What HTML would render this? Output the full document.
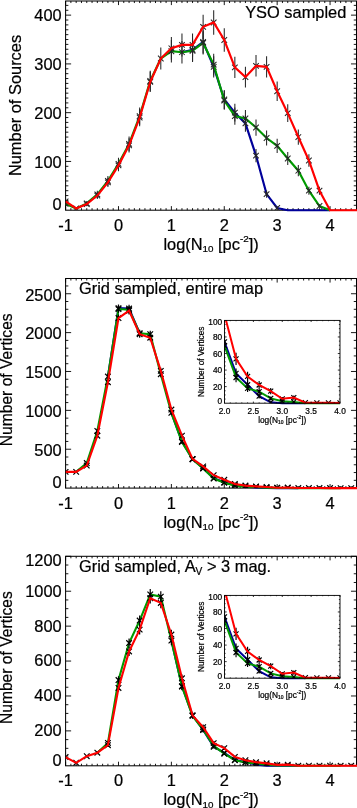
<!DOCTYPE html><html><head><meta charset="utf-8"><style>html,body{margin:0;padding:0;background:#fff}svg{display:block}text{font-family:'Liberation Sans', sans-serif;fill:#000;stroke:#000;stroke-width:0.22px}</style></head><body>
<svg width="357" height="808" viewBox="0 0 357 808" style="will-change:transform">
<rect width="357" height="808" fill="#fff"/>
<path d="M65.60 210.20V206.12M65.60 1.00V5.08M70.89 210.20V208.16M70.89 1.00V3.04M76.18 210.20V208.16M76.18 1.00V3.04M81.47 210.20V208.16M81.47 1.00V3.04M86.76 210.20V208.16M86.76 1.00V3.04M92.05 210.20V208.16M92.05 1.00V3.04M97.33 210.20V208.16M97.33 1.00V3.04M102.62 210.20V208.16M102.62 1.00V3.04M107.91 210.20V208.16M107.91 1.00V3.04M113.20 210.20V208.16M113.20 1.00V3.04M118.49 210.20V206.12M118.49 1.00V5.08M123.78 210.20V208.16M123.78 1.00V3.04M129.07 210.20V208.16M129.07 1.00V3.04M134.36 210.20V208.16M134.36 1.00V3.04M139.65 210.20V208.16M139.65 1.00V3.04M144.94 210.20V208.16M144.94 1.00V3.04M150.23 210.20V208.16M150.23 1.00V3.04M155.51 210.20V208.16M155.51 1.00V3.04M160.80 210.20V208.16M160.80 1.00V3.04M166.09 210.20V208.16M166.09 1.00V3.04M171.38 210.20V206.12M171.38 1.00V5.08M176.67 210.20V208.16M176.67 1.00V3.04M181.96 210.20V208.16M181.96 1.00V3.04M187.25 210.20V208.16M187.25 1.00V3.04M192.54 210.20V208.16M192.54 1.00V3.04M197.83 210.20V208.16M197.83 1.00V3.04M203.12 210.20V208.16M203.12 1.00V3.04M208.41 210.20V208.16M208.41 1.00V3.04M213.69 210.20V208.16M213.69 1.00V3.04M218.98 210.20V208.16M218.98 1.00V3.04M224.27 210.20V206.12M224.27 1.00V5.08M229.56 210.20V208.16M229.56 1.00V3.04M234.85 210.20V208.16M234.85 1.00V3.04M240.14 210.20V208.16M240.14 1.00V3.04M245.43 210.20V208.16M245.43 1.00V3.04M250.72 210.20V208.16M250.72 1.00V3.04M256.01 210.20V208.16M256.01 1.00V3.04M261.30 210.20V208.16M261.30 1.00V3.04M266.59 210.20V208.16M266.59 1.00V3.04M271.87 210.20V208.16M271.87 1.00V3.04M277.16 210.20V206.12M277.16 1.00V5.08M282.45 210.20V208.16M282.45 1.00V3.04M287.74 210.20V208.16M287.74 1.00V3.04M293.03 210.20V208.16M293.03 1.00V3.04M298.32 210.20V208.16M298.32 1.00V3.04M303.61 210.20V208.16M303.61 1.00V3.04M308.90 210.20V208.16M308.90 1.00V3.04M314.19 210.20V208.16M314.19 1.00V3.04M319.48 210.20V208.16M319.48 1.00V3.04M324.77 210.20V208.16M324.77 1.00V3.04M330.05 210.20V206.12M330.05 1.00V5.08M335.34 210.20V208.16M335.34 1.00V3.04M340.63 210.20V208.16M340.63 1.00V3.04M345.92 210.20V208.16M345.92 1.00V3.04M351.21 210.20V208.16M351.21 1.00V3.04M356.50 210.20V208.16M356.50 1.00V3.04M65.60 205.32H68.36M356.50 205.32H353.74M65.60 200.45H68.36M356.50 200.45H353.74M65.60 195.57H68.36M356.50 195.57H353.74M65.60 190.69H68.36M356.50 190.69H353.74M65.60 185.82H68.36M356.50 185.82H353.74M65.60 180.94H68.36M356.50 180.94H353.74M65.60 176.06H68.36M356.50 176.06H353.74M65.60 171.19H68.36M356.50 171.19H353.74M65.60 166.31H68.36M356.50 166.31H353.74M65.60 161.44H71.13M356.50 161.44H350.97M65.60 156.56H68.36M356.50 156.56H353.74M65.60 151.68H68.36M356.50 151.68H353.74M65.60 146.81H68.36M356.50 146.81H353.74M65.60 141.93H68.36M356.50 141.93H353.74M65.60 137.05H68.36M356.50 137.05H353.74M65.60 132.18H68.36M356.50 132.18H353.74M65.60 127.30H68.36M356.50 127.30H353.74M65.60 122.42H68.36M356.50 122.42H353.74M65.60 117.55H68.36M356.50 117.55H353.74M65.60 112.67H71.13M356.50 112.67H350.97M65.60 107.79H68.36M356.50 107.79H353.74M65.60 102.92H68.36M356.50 102.92H353.74M65.60 98.04H68.36M356.50 98.04H353.74M65.60 93.17H68.36M356.50 93.17H353.74M65.60 88.29H68.36M356.50 88.29H353.74M65.60 83.41H68.36M356.50 83.41H353.74M65.60 78.54H68.36M356.50 78.54H353.74M65.60 73.66H68.36M356.50 73.66H353.74M65.60 68.78H68.36M356.50 68.78H353.74M65.60 63.91H71.13M356.50 63.91H350.97M65.60 59.03H68.36M356.50 59.03H353.74M65.60 54.15H68.36M356.50 54.15H353.74M65.60 49.28H68.36M356.50 49.28H353.74M65.60 44.40H68.36M356.50 44.40H353.74M65.60 39.52H68.36M356.50 39.52H353.74M65.60 34.65H68.36M356.50 34.65H353.74M65.60 29.77H68.36M356.50 29.77H353.74M65.60 24.89H68.36M356.50 24.89H353.74M65.60 20.02H68.36M356.50 20.02H353.74M65.60 15.14H71.13M356.50 15.14H350.97M65.60 10.27H68.36M356.50 10.27H353.74M65.60 5.39H68.36M356.50 5.39H353.74" fill="none" stroke="#000" stroke-width="0.90"/>
<rect x="65.60" y="1.00" width="290.90" height="209.20" fill="none" stroke="#000" stroke-width="1.03"/>
<clipPath id="p1"><rect x="65.60" y="1.00" width="290.90" height="209.20"/></clipPath>
<clipPath id="p1L"><rect x="65.60" y="-2.00" width="291.50" height="215.20"/></clipPath>
<g clip-path="url(#p1L)">
<polyline points="181.96,52.20 192.54,49.76 203.12,41.96 213.69,66.83 224.27,99.50 234.85,112.67 245.43,123.40 256.01,155.58 266.59,194.11 277.16,208.01 287.74,210.20 298.32,210.20 308.90,210.20 319.48,210.20 330.05,210.20" fill="none" stroke="#00009a" stroke-width="2.15" stroke-linejoin="miter" stroke-miterlimit="2.5" stroke-linecap="butt"/>
<path d="M189.74 46.96L195.34 52.56M189.74 52.56L195.34 46.96M192.54 38.44L192.54 61.09M200.32 39.16L205.92 44.76M200.32 44.76L205.92 39.16M203.12 30.37L203.12 53.56M210.89 64.03L216.49 69.63M210.89 69.63L216.49 64.03M213.69 56.13L213.69 77.53M221.47 96.70L227.07 102.30M221.47 102.30L227.07 96.70M224.27 90.10L224.27 108.91M232.05 109.87L237.65 115.47M232.05 115.47L237.65 109.87M234.85 103.84L234.85 121.50M242.63 120.60L248.23 126.20M242.63 126.20L248.23 120.60M245.43 115.07L245.43 131.73M253.21 152.78L258.81 158.38M253.21 158.38L258.81 152.78M256.01 148.98L256.01 162.19M263.79 191.31L269.39 196.91M263.79 196.91L269.39 191.31M266.59 190.52L266.59 197.69M274.36 205.21L279.96 210.81M274.36 210.81L279.96 205.21M277.16 206.68L277.16 209.33" fill="none" stroke="#262626" stroke-width="1.05" clip-path="url(#p1)"/>
<polyline points="65.60,203.86 76.18,208.49 86.76,203.37 97.33,194.35 107.91,180.94 118.49,163.87 129.07,143.88 139.65,116.08 150.23,80.97 160.80,58.54 171.38,51.23 181.96,52.20 192.54,50.74 203.12,42.94 213.69,64.64 224.27,100.48 234.85,116.08 245.43,118.52 256.01,127.54 266.59,138.03 277.16,145.83 287.74,158.51 298.32,170.70 308.90,190.69 319.48,206.01 330.05,210.20" fill="none" stroke="#009a00" stroke-width="2.15" stroke-linejoin="miter" stroke-miterlimit="2.5" stroke-linecap="butt"/>
<path d="M62.80 201.06L68.40 206.66M62.80 206.66L68.40 201.06M65.60 201.61L65.60 206.11M83.96 200.57L89.56 206.17M83.96 206.17L89.56 200.57M86.76 201.04L86.76 205.71M94.53 191.55L100.13 197.15M94.53 197.15L100.13 191.55M97.33 190.79L97.33 197.91M105.11 178.14L110.71 183.74M105.11 183.74L110.71 178.14M107.91 176.11L107.91 185.78M115.69 161.07L121.29 166.67M115.69 166.67L121.29 161.07M118.49 157.79L118.49 169.96M126.27 141.08L131.87 146.68M126.27 146.68L131.87 141.08M129.07 136.60L129.07 151.16M136.85 113.28L142.45 118.88M136.85 118.88L142.45 113.28M139.65 107.41L139.65 124.76M147.43 78.17L153.03 83.77M147.43 83.77L153.03 78.17M150.23 70.81L150.23 91.13M168.58 48.43L174.18 54.03M168.58 54.03L174.18 48.43M171.38 39.96L171.38 62.50M179.16 49.40L184.76 55.00M179.16 55.00L184.76 49.40M181.96 40.97L181.96 63.44M189.74 47.94L195.34 53.54M189.74 53.54L195.34 47.94M192.54 39.45L192.54 62.03M200.32 40.14L205.92 45.74M200.32 45.74L205.92 40.14M203.12 31.38L203.12 54.50M210.89 61.84L216.49 67.44M210.89 67.44L216.49 61.84M213.69 53.85L213.69 75.42M221.47 97.68L227.07 103.28M221.47 103.28L227.07 97.68M224.27 91.12L224.27 109.84M232.05 113.28L237.65 118.88M232.05 118.88L237.65 113.28M234.85 107.41L234.85 124.76M242.63 115.72L248.23 121.32M242.63 121.32L248.23 115.72M245.43 109.96L245.43 127.08M253.21 124.74L258.81 130.34M253.21 130.34L258.81 124.74M256.01 119.42L256.01 135.67M263.79 135.23L269.39 140.83M263.79 140.83L269.39 135.23M266.59 130.43L266.59 145.62M274.36 143.03L279.96 148.63M274.36 148.63L279.96 143.03M277.16 138.66L277.16 153.00M284.94 155.71L290.54 161.31M284.94 161.31L290.54 155.71M287.74 152.08L287.74 164.94M295.52 167.90L301.12 173.50M295.52 173.50L301.12 167.90M298.32 165.08L298.32 176.32M306.10 187.89L311.70 193.49M306.10 193.49L311.70 187.89M308.90 186.75L308.90 194.64M316.68 203.21L322.28 208.81M316.68 208.81L322.28 203.21M319.48 204.18L319.48 207.84" fill="none" stroke="#262626" stroke-width="1.05" clip-path="url(#p1)"/>
<path d="M62.80 198.62L68.40 204.22M62.80 204.22L68.40 198.62M65.60 198.77L65.60 204.07M73.38 205.69L78.98 211.29M73.38 211.29L78.98 205.69M76.18 207.33L76.18 209.66M83.96 201.30L89.56 206.90M83.96 206.90L89.56 201.30M86.76 201.90L86.76 206.31M94.53 192.77L100.13 198.37M94.53 198.37L100.13 192.77M97.33 192.15L97.33 198.99M105.11 179.60L110.71 185.20M105.11 185.20L110.71 179.60M107.91 177.69L107.91 187.12M115.69 162.54L121.29 168.14M115.69 168.14L121.29 162.54M118.49 159.35L118.49 171.32M126.27 142.54L131.87 148.14M126.27 148.14L131.87 142.54M129.07 138.14L129.07 152.54M136.85 114.75L142.45 120.35M136.85 120.35L142.45 114.75M139.65 108.94L139.65 126.15M147.43 79.15L153.03 84.75M147.43 84.75L153.03 79.15M150.23 71.83L150.23 92.07M158.00 55.74L163.60 61.34M158.00 61.34L163.60 55.74M160.80 47.53L160.80 69.55M168.58 45.50L174.18 51.10M168.58 51.10L174.18 45.50M171.38 36.93L171.38 59.67M179.16 42.09L184.76 47.69M179.16 47.69L184.76 42.09M181.96 33.40L181.96 56.38M189.74 42.09L195.34 47.69M189.74 47.69L195.34 42.09M192.54 33.40L192.54 56.38M200.32 24.05L205.92 29.65M200.32 29.65L205.92 24.05M203.12 14.74L203.12 38.95M210.89 19.66L216.49 25.26M210.89 25.26L216.49 19.66M213.69 10.21L213.69 34.70M221.47 37.21L227.07 42.81M221.47 42.81L227.07 37.21M224.27 28.35L224.27 51.67M232.05 64.52L237.65 70.12M232.05 70.12L237.65 64.52M234.85 56.64L234.85 78.00M242.63 74.27L248.23 79.87M242.63 79.87L248.23 74.27M245.43 66.76L245.43 87.39M253.21 63.06L258.81 68.66M253.21 68.66L258.81 63.06M256.01 55.12L256.01 76.60M263.79 64.03L269.39 69.63M263.79 69.63L269.39 64.03M266.59 56.13L266.59 77.53M274.36 88.41L279.96 94.01M274.36 94.01L279.96 88.41M277.16 81.46L277.16 100.96M284.94 110.36L290.54 115.96M284.94 115.96L290.54 110.36M287.74 104.35L287.74 121.96M295.52 134.25L301.12 139.85M295.52 139.85L301.12 134.25M298.32 129.41L298.32 144.70M306.10 157.66L311.70 163.26M306.10 163.26L311.70 157.66M308.90 154.16L308.90 166.76M316.68 187.89L322.28 193.49M316.68 193.49L322.28 187.89M319.48 186.75L319.48 194.64" fill="none" stroke="#262626" stroke-width="1.05" clip-path="url(#p1)"/>
<polyline points="65.60,201.42 76.18,208.49 86.76,204.10 97.33,195.57 107.91,182.40 118.49,165.34 129.07,145.34 139.65,117.55 150.23,81.95 160.80,58.54 171.38,48.30 181.96,44.89 192.54,44.89 203.12,26.85 213.69,22.46 224.27,40.01 234.85,67.32 245.43,77.07 256.01,65.86 266.59,66.83 277.16,91.21 287.74,113.16 298.32,137.05 308.90,160.46 319.48,190.69 330.05,210.20 340.63,210.20 351.21,210.20 361.79,210.20" fill="none" stroke="#ff0000" stroke-width="2.15" stroke-linejoin="miter" stroke-miterlimit="2.5" stroke-linecap="butt"/>
</g>
<text x="65.60" y="230.80" font-size="16.40" text-anchor="middle" >-1</text>
<text x="118.49" y="230.80" font-size="16.40" text-anchor="middle" >0</text>
<text x="171.38" y="230.80" font-size="16.40" text-anchor="middle" >1</text>
<text x="224.27" y="230.80" font-size="16.40" text-anchor="middle" >2</text>
<text x="277.16" y="230.80" font-size="16.40" text-anchor="middle" >3</text>
<text x="330.05" y="230.80" font-size="16.40" text-anchor="middle" >4</text>
<text x="61.70" y="210.40" font-size="16.40" text-anchor="end" >0</text>
<text x="61.70" y="167.74" font-size="16.40" text-anchor="end" >100</text>
<text x="61.70" y="118.97" font-size="16.40" text-anchor="end" >200</text>
<text x="61.70" y="70.21" font-size="16.40" text-anchor="end" >300</text>
<text x="61.70" y="21.44" font-size="16.40" text-anchor="end" >400</text>
<text x="211.05" y="249.60" font-size="16.40" text-anchor="middle">log(N<tspan font-size="9.84" dy="2.79">10</tspan><tspan dy="-2.79"> [pc</tspan><tspan font-size="9.84" dy="-7.38">-2</tspan><tspan dy="7.38">])</tspan></text>
<text transform="translate(21.20,105.50) rotate(-90)" font-size="16.40" text-anchor="middle">Number of Sources</text>
<text x="346.30" y="17.80" font-size="16.40" text-anchor="end" >YSO sampled</text>
<path d="M65.60 488.10V484.01M65.60 278.50V282.59M70.89 488.10V486.06M70.89 278.50V280.54M76.18 488.10V486.06M76.18 278.50V280.54M81.47 488.10V486.06M81.47 278.50V280.54M86.76 488.10V486.06M86.76 278.50V280.54M92.05 488.10V486.06M92.05 278.50V280.54M97.33 488.10V486.06M97.33 278.50V280.54M102.62 488.10V486.06M102.62 278.50V280.54M107.91 488.10V486.06M107.91 278.50V280.54M113.20 488.10V486.06M113.20 278.50V280.54M118.49 488.10V484.01M118.49 278.50V282.59M123.78 488.10V486.06M123.78 278.50V280.54M129.07 488.10V486.06M129.07 278.50V280.54M134.36 488.10V486.06M134.36 278.50V280.54M139.65 488.10V486.06M139.65 278.50V280.54M144.94 488.10V486.06M144.94 278.50V280.54M150.23 488.10V486.06M150.23 278.50V280.54M155.51 488.10V486.06M155.51 278.50V280.54M160.80 488.10V486.06M160.80 278.50V280.54M166.09 488.10V486.06M166.09 278.50V280.54M171.38 488.10V484.01M171.38 278.50V282.59M176.67 488.10V486.06M176.67 278.50V280.54M181.96 488.10V486.06M181.96 278.50V280.54M187.25 488.10V486.06M187.25 278.50V280.54M192.54 488.10V486.06M192.54 278.50V280.54M197.83 488.10V486.06M197.83 278.50V280.54M203.12 488.10V486.06M203.12 278.50V280.54M208.41 488.10V486.06M208.41 278.50V280.54M213.69 488.10V486.06M213.69 278.50V280.54M218.98 488.10V486.06M218.98 278.50V280.54M224.27 488.10V484.01M224.27 278.50V282.59M229.56 488.10V486.06M229.56 278.50V280.54M234.85 488.10V486.06M234.85 278.50V280.54M240.14 488.10V486.06M240.14 278.50V280.54M245.43 488.10V486.06M245.43 278.50V280.54M250.72 488.10V486.06M250.72 278.50V280.54M256.01 488.10V486.06M256.01 278.50V280.54M261.30 488.10V486.06M261.30 278.50V280.54M266.59 488.10V486.06M266.59 278.50V280.54M271.87 488.10V486.06M271.87 278.50V280.54M277.16 488.10V484.01M277.16 278.50V282.59M282.45 488.10V486.06M282.45 278.50V280.54M287.74 488.10V486.06M287.74 278.50V280.54M293.03 488.10V486.06M293.03 278.50V280.54M298.32 488.10V486.06M298.32 278.50V280.54M303.61 488.10V486.06M303.61 278.50V280.54M308.90 488.10V486.06M308.90 278.50V280.54M314.19 488.10V486.06M314.19 278.50V280.54M319.48 488.10V486.06M319.48 278.50V280.54M324.77 488.10V486.06M324.77 278.50V280.54M330.05 488.10V484.01M330.05 278.50V282.59M335.34 488.10V486.06M335.34 278.50V280.54M340.63 488.10V486.06M340.63 278.50V280.54M345.92 488.10V486.06M345.92 278.50V280.54M351.21 488.10V486.06M351.21 278.50V280.54M356.50 488.10V486.06M356.50 278.50V280.54M65.60 480.33H68.36M356.50 480.33H353.74M65.60 472.55H68.36M356.50 472.55H353.74M65.60 464.78H68.36M356.50 464.78H353.74M65.60 457.00H68.36M356.50 457.00H353.74M65.60 449.23H71.13M356.50 449.23H350.97M65.60 441.45H68.36M356.50 441.45H353.74M65.60 433.68H68.36M356.50 433.68H353.74M65.60 425.90H68.36M356.50 425.90H353.74M65.60 418.13H68.36M356.50 418.13H353.74M65.60 410.36H71.13M356.50 410.36H350.97M65.60 402.58H68.36M356.50 402.58H353.74M65.60 394.81H68.36M356.50 394.81H353.74M65.60 387.03H68.36M356.50 387.03H353.74M65.60 379.26H68.36M356.50 379.26H353.74M65.60 371.48H71.13M356.50 371.48H350.97M65.60 363.71H68.36M356.50 363.71H353.74M65.60 355.93H68.36M356.50 355.93H353.74M65.60 348.16H68.36M356.50 348.16H353.74M65.60 340.38H68.36M356.50 340.38H353.74M65.60 332.61H71.13M356.50 332.61H350.97M65.60 324.84H68.36M356.50 324.84H353.74M65.60 317.06H68.36M356.50 317.06H353.74M65.60 309.29H68.36M356.50 309.29H353.74M65.60 301.51H68.36M356.50 301.51H353.74M65.60 293.74H71.13M356.50 293.74H350.97M65.60 285.96H68.36M356.50 285.96H353.74" fill="none" stroke="#000" stroke-width="0.90"/>
<rect x="65.60" y="278.50" width="290.90" height="209.60" fill="none" stroke="#000" stroke-width="1.03"/>
<clipPath id="p278"><rect x="65.60" y="278.50" width="290.90" height="209.60"/></clipPath>
<clipPath id="p278L"><rect x="65.60" y="275.50" width="291.50" height="215.60"/></clipPath>
<g clip-path="url(#p278L)">
<polyline points="107.91,376.54 118.49,308.20 129.07,308.51 139.65,333.23" fill="none" stroke="#00009a" stroke-width="2.10" stroke-linejoin="miter" stroke-miterlimit="2.5" stroke-linecap="butt"/>
<polyline points="171.38,412.84 181.96,441.45 192.54,459.18 203.12,468.20 213.69,478.15 224.27,482.35 234.85,485.30 245.43,486.37 256.01,487.44 266.59,488.02 277.16,488.10 287.74,488.10 298.32,488.10" fill="none" stroke="#00009a" stroke-width="2.10" stroke-linejoin="miter" stroke-miterlimit="2.5" stroke-linecap="butt"/>
<path d="M115.69 305.40L121.29 311.00M115.69 311.00L121.29 305.40M118.49 304.46L118.49 311.94M126.27 305.71L131.87 311.31M126.27 311.31L131.87 305.71M129.07 304.77L129.07 312.25M179.16 438.65L184.76 444.25M179.16 444.25L184.76 438.65M181.96 439.55L181.96 443.36M189.74 456.38L195.34 461.98M189.74 461.98L195.34 456.38M192.54 457.68L192.54 460.68M200.32 465.40L205.92 471.00M200.32 471.00L205.92 465.40M203.12 466.95L203.12 469.44M210.89 475.35L216.49 480.95M210.89 480.95L216.49 475.35M213.69 477.27L213.69 479.03M221.47 479.55L227.07 485.15M221.47 485.15L227.07 479.55M224.27 481.68L224.27 483.02M232.05 482.50L237.65 488.10M232.05 488.10L237.65 482.50M234.85 484.83L234.85 485.77M242.63 483.57L248.23 489.17M242.63 489.17L248.23 483.57M245.43 486.00L245.43 486.73M253.21 484.64L258.81 490.24M253.21 490.24L258.81 484.64M263.79 485.22L269.39 490.82M263.79 490.82L269.39 485.22" fill="none" stroke="#000" stroke-width="1.20" clip-path="url(#p278)"/>
<polyline points="76.18,471.85 86.76,463.07 97.33,430.96 107.91,376.54 118.49,309.05 129.07,309.68 139.65,333.23 150.23,334.24 160.80,374.20 171.38,412.84 181.96,441.92 192.54,459.33 203.12,468.43 213.69,478.54 224.27,482.70 234.85,485.69 245.43,486.72 256.01,487.01 266.59,487.65 277.16,487.91 287.74,487.98 298.32,488.10 308.90,488.10 319.48,488.10 330.05,488.10 340.63,488.10" fill="none" stroke="#009a00" stroke-width="2.10" stroke-linejoin="miter" stroke-miterlimit="2.5" stroke-linecap="butt"/>
<path d="M83.96 460.27L89.56 465.87M83.96 465.87L89.56 460.27M86.76 461.67L86.76 464.46M94.53 428.16L100.13 433.76M94.53 433.76L100.13 428.16M97.33 428.85L97.33 433.07M105.11 373.74L110.71 379.34M105.11 379.34L110.71 373.74M107.91 373.59L107.91 379.48M115.69 306.25L121.29 311.85M115.69 311.85L121.29 306.25M118.49 305.32L118.49 312.78M126.27 306.88L131.87 312.48M126.27 312.48L131.87 306.88M129.07 305.95L129.07 313.40M136.85 330.43L142.45 336.03M136.85 336.03L142.45 330.43M139.65 329.76L139.65 336.70M147.43 331.44L153.03 337.04M147.43 337.04L153.03 331.44M150.23 330.78L150.23 337.70M158.00 371.40L163.60 377.00M158.00 377.00L163.60 371.40M160.80 371.23L160.80 377.18M168.58 410.04L174.18 415.64M168.58 415.64L174.18 410.04M171.38 410.42L171.38 415.26M179.16 439.12L184.76 444.72M179.16 444.72L184.76 439.12M181.96 440.02L181.96 443.81M189.74 456.53L195.34 462.13M189.74 462.13L195.34 456.53M192.54 457.84L192.54 460.83M200.32 465.63L205.92 471.23M200.32 471.23L205.92 465.63M203.12 467.19L203.12 469.67M210.89 475.74L216.49 481.34M210.89 481.34L216.49 475.74M213.69 477.68L213.69 479.40M221.47 479.90L227.07 485.50M221.47 485.50L227.07 479.90M224.27 482.05L224.27 483.34M232.05 482.89L237.65 488.49M232.05 488.49L237.65 482.89M234.85 485.26L234.85 486.12M242.63 483.92L248.23 489.52M242.63 489.52L248.23 483.92M245.43 486.39L245.43 487.04M253.21 484.21L258.81 489.81M253.21 489.81L258.81 484.21M263.79 484.85L269.39 490.45M263.79 490.45L269.39 484.85M274.36 485.11L279.96 490.71M274.36 490.71L279.96 485.11M284.94 485.18L290.54 490.78M284.94 490.78L290.54 485.18" fill="none" stroke="#000" stroke-width="1.20" clip-path="url(#p278)"/>
<path d="M62.80 469.05L68.40 474.65M62.80 474.65L68.40 469.05M65.60 470.73L65.60 472.98M73.38 469.05L78.98 474.65M73.38 474.65L78.98 469.05M76.18 470.73L76.18 472.98M83.96 462.75L89.56 468.35M83.96 468.35L89.56 462.75M86.76 464.23L86.76 466.88M94.53 432.90L100.13 438.50M94.53 438.50L100.13 432.90M97.33 433.68L97.33 437.72M105.11 379.41L110.71 385.01M105.11 385.01L110.71 379.41M107.91 379.34L107.91 385.08M115.69 315.27L121.29 320.87M115.69 320.87L121.29 315.27M118.49 314.44L118.49 321.71M126.27 307.89L131.87 313.49M126.27 313.49L131.87 307.89M129.07 306.97L129.07 314.40M136.85 331.44L142.45 337.04M136.85 337.04L142.45 331.44M139.65 330.78L139.65 337.70M147.43 334.94L153.03 340.54M147.43 340.54L153.03 334.94M150.23 334.32L150.23 341.16M158.00 368.06L163.60 373.66M158.00 373.66L163.60 368.06M160.80 367.84L160.80 373.88M168.58 406.78L174.18 412.38M168.58 412.38L174.18 406.78M171.38 407.11L171.38 412.05M179.16 432.82L184.76 438.42M179.16 438.42L184.76 432.82M181.96 433.60L181.96 437.64M189.74 456.07L195.34 461.67M189.74 461.67L195.34 456.07M192.54 457.36L192.54 460.38M200.32 463.61L205.92 469.21M200.32 469.21L205.92 463.61M203.12 465.11L203.12 467.71M210.89 472.39L216.49 477.99M210.89 477.99L216.49 472.39M213.69 474.19L213.69 476.20M221.47 476.98L227.07 482.58M221.47 482.58L227.07 476.98M224.27 478.98L224.27 480.59M232.05 481.13L237.65 486.73M232.05 486.73L237.65 481.13M234.85 483.36L234.85 484.50M242.63 482.79L248.23 488.39M242.63 488.39L248.23 482.79M245.43 485.15L245.43 486.03M253.21 483.59L258.81 489.19M253.21 489.19L258.81 483.59M256.01 486.02L256.01 486.75M263.79 484.17L269.39 489.77M263.79 489.77L269.39 484.17M274.36 484.89L279.96 490.49M274.36 490.49L279.96 484.89M284.94 484.77L290.54 490.37M284.94 490.37L290.54 484.77M295.52 485.25L301.12 490.85M295.52 490.85L301.12 485.25M306.10 485.27L311.70 490.87M306.10 490.87L311.70 485.27M316.68 485.27L322.28 490.87M316.68 490.87L322.28 485.27M327.25 485.28L332.85 490.88M327.25 490.88L332.85 485.28M337.83 485.30L343.43 490.90M337.83 490.90L343.43 485.30M348.41 485.30L354.01 490.90M348.41 490.90L354.01 485.30M358.99 485.30L364.59 490.90M358.99 490.90L364.59 485.30" fill="none" stroke="#000" stroke-width="1.20" clip-path="url(#p278)"/>
<polyline points="65.60,471.85 76.18,471.85 86.76,465.55 97.33,435.70 107.91,382.21 118.49,318.07 129.07,310.69 139.65,334.24 150.23,337.74 160.80,370.86 171.38,409.58 181.96,435.62 192.54,458.87 203.12,466.41 213.69,475.19 224.27,479.78 234.85,483.93 245.43,485.59 256.01,486.39 266.59,486.97 277.16,487.69 287.74,487.57 298.32,488.05 308.90,488.07 319.48,488.07 330.05,488.08 340.63,488.10 351.21,488.10 361.79,488.10" fill="none" stroke="#ff0000" stroke-width="2.10" stroke-linejoin="miter" stroke-miterlimit="2.5" stroke-linecap="butt"/>
</g>
<text x="65.60" y="508.70" font-size="16.40" text-anchor="middle" >-1</text>
<text x="118.49" y="508.70" font-size="16.40" text-anchor="middle" >0</text>
<text x="171.38" y="508.70" font-size="16.40" text-anchor="middle" >1</text>
<text x="224.27" y="508.70" font-size="16.40" text-anchor="middle" >2</text>
<text x="277.16" y="508.70" font-size="16.40" text-anchor="middle" >3</text>
<text x="330.05" y="508.70" font-size="16.40" text-anchor="middle" >4</text>
<text x="61.70" y="488.30" font-size="16.40" text-anchor="end" >0</text>
<text x="61.70" y="456.03" font-size="16.40" text-anchor="end" >500</text>
<text x="61.70" y="417.16" font-size="16.40" text-anchor="end" >1000</text>
<text x="61.70" y="378.28" font-size="16.40" text-anchor="end" >1500</text>
<text x="61.70" y="339.41" font-size="16.40" text-anchor="end" >2000</text>
<text x="61.70" y="300.54" font-size="16.40" text-anchor="end" >2500</text>
<text x="211.05" y="527.50" font-size="16.40" text-anchor="middle">log(N<tspan font-size="9.84" dy="2.79">10</tspan><tspan dy="-2.79"> [pc</tspan><tspan font-size="9.84" dy="-7.38">-2</tspan><tspan dy="7.38">])</tspan></text>
<text transform="translate(12.20,379.80) rotate(-90)" font-size="16.40" text-anchor="middle" textLength="133.0" lengthAdjust="spacingAndGlyphs">Number of Vertices</text>
<text x="79.00" y="293.80" font-size="16.40" text-anchor="start" >Grid sampled, entire map</text>
<clipPath id="c320"><rect x="224.50" y="319.90" width="117.50" height="85.80"/></clipPath>
<clipPath id="c320m"><rect x="224.50" y="320.40" width="115.50" height="82.80"/></clipPath>
<g clip-path="url(#c320)">
<polyline points="224.50,341.93 236.05,373.39 247.60,384.74 259.15,396.16 270.70,402.37 282.25,403.20 293.80,403.20 305.35,403.20" fill="none" stroke="#00009a" stroke-width="2.00" stroke-linejoin="miter" stroke-miterlimit="2.5" stroke-linecap="butt"/>
<path d="M222.00 339.43L227.00 344.43M222.00 344.43L227.00 339.43M224.50 334.81L224.50 349.05M233.55 370.89L238.55 375.89M233.55 375.89L238.55 370.89M236.05 368.42L236.05 378.36M245.10 382.24L250.10 387.24M245.10 387.24L250.10 382.24M247.60 380.83L247.60 388.65M256.65 393.66L261.65 398.66M256.65 398.66L261.65 393.66M259.15 393.75L259.15 398.58M268.20 399.87L273.20 404.87M268.20 404.87L273.20 399.87M270.70 401.54L270.70 403.20" fill="none" stroke="#000" stroke-width="1.15" clip-path="url(#c320m)"/>
<polyline points="224.50,345.65 236.05,377.53 247.60,388.46 259.15,391.61 270.70,398.40 282.25,401.21 293.80,401.88 305.35,403.20 316.90,403.20 328.45,403.20 340.00,403.20" fill="none" stroke="#009a00" stroke-width="2.00" stroke-linejoin="miter" stroke-miterlimit="2.5" stroke-linecap="butt"/>
<path d="M222.00 343.15L227.00 348.15M222.00 348.15L227.00 343.15M224.50 338.75L224.50 352.56M233.55 375.03L238.55 380.03M233.55 380.03L238.55 375.03M236.05 372.92L236.05 382.14M245.10 385.96L250.10 390.96M245.10 390.96L250.10 385.96M247.60 384.97L247.60 391.95M256.65 389.11L261.65 394.11M256.65 394.11L261.65 389.11M259.15 388.51L259.15 394.71M268.20 395.90L273.20 400.90M268.20 400.90L273.20 395.90M270.70 396.40L270.70 400.39M279.75 398.71L284.75 403.71M279.75 403.71L284.75 398.71M282.25 399.93L282.25 402.50M291.30 399.38L296.30 404.38M291.30 404.38L296.30 399.38M293.80 400.83L293.80 402.92" fill="none" stroke="#000" stroke-width="1.15" clip-path="url(#c320m)"/>
<path d="M222.00 312.10L227.00 317.10M222.00 317.10L227.00 312.10M224.50 306.04L224.50 323.17M233.55 356.32L238.55 361.32M233.55 361.32L238.55 356.32M236.05 352.76L236.05 364.88M245.10 373.96L250.10 378.96M245.10 378.96L250.10 373.96M247.60 371.75L247.60 381.16M256.65 382.48L261.65 387.48M256.65 387.48L261.65 382.48M259.15 381.10L259.15 388.87M268.20 388.69L273.20 393.69M268.20 393.69L273.20 388.69M270.70 388.04L270.70 394.35M279.75 396.31L284.75 401.31M279.75 401.31L284.75 396.31M282.25 396.91L282.25 400.72M291.30 395.07L296.30 400.07M291.30 400.07L296.30 395.07M293.80 395.41L293.80 399.73M302.85 400.20L307.85 405.20M302.85 405.20L307.85 400.20M305.35 402.06L305.35 403.34M314.40 400.37L319.40 405.37M314.40 405.37L319.40 400.37M316.90 402.35L316.90 403.39M325.95 400.37L330.95 405.37M325.95 405.37L330.95 400.37M328.45 402.35L328.45 403.39M337.50 400.45L342.50 405.45M337.50 405.45L342.50 400.45M340.00 402.50L340.00 403.41" fill="none" stroke="#000" stroke-width="1.15" clip-path="url(#c320m)"/>
<polyline points="224.50,314.60 236.05,358.82 247.60,376.46 259.15,384.98 270.70,391.19 282.25,398.81 293.80,397.57 305.35,402.70 316.90,402.87 328.45,402.87 340.00,402.95" fill="none" stroke="#ff0000" stroke-width="2.00" stroke-linejoin="miter" stroke-miterlimit="2.5" stroke-linecap="butt"/>
</g>
<path d="M224.50 403.20V401.59M224.50 320.40V322.01M230.28 403.20V402.39M230.28 320.40V321.21M236.05 403.20V402.39M236.05 320.40V321.21M241.82 403.20V402.39M241.82 320.40V321.21M247.60 403.20V402.39M247.60 320.40V321.21M253.38 403.20V401.59M253.38 320.40V322.01M259.15 403.20V402.39M259.15 320.40V321.21M264.93 403.20V402.39M264.93 320.40V321.21M270.70 403.20V402.39M270.70 320.40V321.21M276.48 403.20V402.39M276.48 320.40V321.21M282.25 403.20V401.59M282.25 320.40V322.01M288.02 403.20V402.39M288.02 320.40V321.21M293.80 403.20V402.39M293.80 320.40V321.21M299.57 403.20V402.39M299.57 320.40V321.21M305.35 403.20V402.39M305.35 320.40V321.21M311.12 403.20V401.59M311.12 320.40V322.01M316.90 403.20V402.39M316.90 320.40V321.21M322.68 403.20V402.39M322.68 320.40V321.21M328.45 403.20V402.39M328.45 320.40V321.21M334.23 403.20V402.39M334.23 320.40V321.21M340.00 403.20V401.59M340.00 320.40V322.01M224.50 399.06H225.60M340.00 399.06H338.90M224.50 394.92H225.60M340.00 394.92H338.90M224.50 390.78H225.60M340.00 390.78H338.90M224.50 386.64H226.69M340.00 386.64H337.81M224.50 382.50H225.60M340.00 382.50H338.90M224.50 378.36H225.60M340.00 378.36H338.90M224.50 374.22H225.60M340.00 374.22H338.90M224.50 370.08H226.69M340.00 370.08H337.81M224.50 365.94H225.60M340.00 365.94H338.90M224.50 361.80H225.60M340.00 361.80H338.90M224.50 357.66H225.60M340.00 357.66H338.90M224.50 353.52H226.69M340.00 353.52H337.81M224.50 349.38H225.60M340.00 349.38H338.90M224.50 345.24H225.60M340.00 345.24H338.90M224.50 341.10H225.60M340.00 341.10H338.90M224.50 336.96H226.69M340.00 336.96H337.81M224.50 332.82H225.60M340.00 332.82H338.90M224.50 328.68H225.60M340.00 328.68H338.90M224.50 324.54H225.60M340.00 324.54H338.90" fill="none" stroke="#000" stroke-width="0.80"/>
<rect x="224.50" y="320.40" width="115.50" height="82.80" fill="none" stroke="#000" stroke-width="0.92"/>
<text x="224.50" y="414.10" font-size="8.30" text-anchor="middle" >2.0</text>
<text x="253.38" y="414.10" font-size="8.30" text-anchor="middle" >2.5</text>
<text x="282.25" y="414.10" font-size="8.30" text-anchor="middle" >3.0</text>
<text x="311.12" y="414.10" font-size="8.30" text-anchor="middle" >3.5</text>
<text x="340.00" y="414.10" font-size="8.30" text-anchor="middle" >4.0</text>
<text x="222.20" y="403.80" font-size="8.30" text-anchor="end" >0</text>
<text x="222.20" y="389.84" font-size="8.30" text-anchor="end" >20</text>
<text x="222.20" y="373.28" font-size="8.30" text-anchor="end" >40</text>
<text x="222.20" y="356.72" font-size="8.30" text-anchor="end" >60</text>
<text x="222.20" y="340.16" font-size="8.30" text-anchor="end" >80</text>
<text x="222.20" y="325.00" font-size="8.30" text-anchor="end" >100</text>
<text x="282.25" y="423.00" font-size="8.30" text-anchor="middle">log(N<tspan font-size="4.98" dy="1.41">10</tspan><tspan dy="-1.41"> [pc</tspan><tspan font-size="4.98" dy="-3.74">-2</tspan><tspan dy="3.74">])</tspan></text>
<text transform="translate(203.50,361.80) rotate(-90)" font-size="8.30" text-anchor="middle">Number of Vertices</text>
<path d="M65.60 765.80V761.71M65.60 556.30V560.39M70.89 765.80V763.76M70.89 556.30V558.34M76.18 765.80V763.76M76.18 556.30V558.34M81.47 765.80V763.76M81.47 556.30V558.34M86.76 765.80V763.76M86.76 556.30V558.34M92.05 765.80V763.76M92.05 556.30V558.34M97.33 765.80V763.76M97.33 556.30V558.34M102.62 765.80V763.76M102.62 556.30V558.34M107.91 765.80V763.76M107.91 556.30V558.34M113.20 765.80V763.76M113.20 556.30V558.34M118.49 765.80V761.71M118.49 556.30V560.39M123.78 765.80V763.76M123.78 556.30V558.34M129.07 765.80V763.76M129.07 556.30V558.34M134.36 765.80V763.76M134.36 556.30V558.34M139.65 765.80V763.76M139.65 556.30V558.34M144.94 765.80V763.76M144.94 556.30V558.34M150.23 765.80V763.76M150.23 556.30V558.34M155.51 765.80V763.76M155.51 556.30V558.34M160.80 765.80V763.76M160.80 556.30V558.34M166.09 765.80V763.76M166.09 556.30V558.34M171.38 765.80V761.71M171.38 556.30V560.39M176.67 765.80V763.76M176.67 556.30V558.34M181.96 765.80V763.76M181.96 556.30V558.34M187.25 765.80V763.76M187.25 556.30V558.34M192.54 765.80V763.76M192.54 556.30V558.34M197.83 765.80V763.76M197.83 556.30V558.34M203.12 765.80V763.76M203.12 556.30V558.34M208.41 765.80V763.76M208.41 556.30V558.34M213.69 765.80V763.76M213.69 556.30V558.34M218.98 765.80V763.76M218.98 556.30V558.34M224.27 765.80V761.71M224.27 556.30V560.39M229.56 765.80V763.76M229.56 556.30V558.34M234.85 765.80V763.76M234.85 556.30V558.34M240.14 765.80V763.76M240.14 556.30V558.34M245.43 765.80V763.76M245.43 556.30V558.34M250.72 765.80V763.76M250.72 556.30V558.34M256.01 765.80V763.76M256.01 556.30V558.34M261.30 765.80V763.76M261.30 556.30V558.34M266.59 765.80V763.76M266.59 556.30V558.34M271.87 765.80V763.76M271.87 556.30V558.34M277.16 765.80V761.71M277.16 556.30V560.39M282.45 765.80V763.76M282.45 556.30V558.34M287.74 765.80V763.76M287.74 556.30V558.34M293.03 765.80V763.76M293.03 556.30V558.34M298.32 765.80V763.76M298.32 556.30V558.34M303.61 765.80V763.76M303.61 556.30V558.34M308.90 765.80V763.76M308.90 556.30V558.34M314.19 765.80V763.76M314.19 556.30V558.34M319.48 765.80V763.76M319.48 556.30V558.34M324.77 765.80V763.76M324.77 556.30V558.34M330.05 765.80V761.71M330.05 556.30V560.39M335.34 765.80V763.76M335.34 556.30V558.34M340.63 765.80V763.76M340.63 556.30V558.34M345.92 765.80V763.76M345.92 556.30V558.34M351.21 765.80V763.76M351.21 556.30V558.34M356.50 765.80V763.76M356.50 556.30V558.34M65.60 757.07H68.36M356.50 757.07H353.74M65.60 748.34H68.36M356.50 748.34H353.74M65.60 739.61H68.36M356.50 739.61H353.74M65.60 730.88H71.13M356.50 730.88H350.97M65.60 722.15H68.36M356.50 722.15H353.74M65.60 713.42H68.36M356.50 713.42H353.74M65.60 704.70H68.36M356.50 704.70H353.74M65.60 695.97H71.13M356.50 695.97H350.97M65.60 687.24H68.36M356.50 687.24H353.74M65.60 678.51H68.36M356.50 678.51H353.74M65.60 669.78H68.36M356.50 669.78H353.74M65.60 661.05H71.13M356.50 661.05H350.97M65.60 652.32H68.36M356.50 652.32H353.74M65.60 643.59H68.36M356.50 643.59H353.74M65.60 634.86H68.36M356.50 634.86H353.74M65.60 626.13H71.13M356.50 626.13H350.97M65.60 617.40H68.36M356.50 617.40H353.74M65.60 608.67H68.36M356.50 608.67H353.74M65.60 599.95H68.36M356.50 599.95H353.74M65.60 591.22H71.13M356.50 591.22H350.97M65.60 582.49H68.36M356.50 582.49H353.74M65.60 573.76H68.36M356.50 573.76H353.74M65.60 565.03H68.36M356.50 565.03H353.74M65.60 556.30H71.13M356.50 556.30H350.97" fill="none" stroke="#000" stroke-width="0.90"/>
<rect x="65.60" y="556.30" width="290.90" height="209.50" fill="none" stroke="#000" stroke-width="1.03"/>
<clipPath id="p556"><rect x="65.60" y="556.30" width="290.90" height="209.50"/></clipPath>
<clipPath id="p556L"><rect x="65.60" y="553.30" width="291.50" height="215.50"/></clipPath>
<g clip-path="url(#p556L)">
<polyline points="171.38,640.62 181.96,686.19 192.54,715.35 203.12,730.01 213.69,746.77 224.27,752.88 234.85,759.86 245.43,762.22 256.01,764.49 266.59,765.63 277.16,765.80 287.74,765.80 298.32,765.80" fill="none" stroke="#00009a" stroke-width="2.10" stroke-linejoin="miter" stroke-miterlimit="2.5" stroke-linecap="butt"/>
<path d="M179.16 683.39L184.76 688.99M179.16 688.99L184.76 683.39M181.96 682.46L181.96 689.92M189.74 712.55L195.34 718.15M189.74 718.15L195.34 712.55M192.54 712.38L192.54 718.31M200.32 727.21L205.92 732.81M200.32 732.81L205.92 727.21M203.12 727.51L203.12 732.51M210.89 743.97L216.49 749.57M210.89 749.57L216.49 743.97M213.69 744.95L213.69 748.59M221.47 750.08L227.07 755.68M221.47 755.68L227.07 750.08M224.27 751.38L224.27 754.38M232.05 757.06L237.65 762.66M232.05 762.66L237.65 757.06M234.85 758.85L234.85 760.88M242.63 759.42L248.23 765.02M242.63 765.02L248.23 759.42M245.43 761.43L245.43 763.01M253.21 761.69L258.81 767.29M253.21 767.29L258.81 761.69M256.01 764.01L256.01 764.97M263.79 762.83L269.39 768.43M263.79 768.43L269.39 762.83" fill="none" stroke="#000" stroke-width="1.20" clip-path="url(#p556)"/>
<polyline points="97.33,752.71 107.91,742.93 118.49,680.08 129.07,643.07 139.65,620.55 150.23,594.36 160.80,596.63 171.38,640.62 181.96,686.54 192.54,715.87 203.12,729.49 213.69,745.90 224.27,753.67 234.85,760.16 245.43,762.50 256.01,763.58 266.59,764.82 277.16,765.38 287.74,765.52 298.32,765.80 308.90,765.80 319.48,765.80 330.05,765.80 340.63,765.80" fill="none" stroke="#009a00" stroke-width="2.10" stroke-linejoin="miter" stroke-miterlimit="2.5" stroke-linecap="butt"/>
<path d="M105.11 740.13L110.71 745.73M105.11 745.73L110.71 740.13M107.91 740.93L107.91 744.93M115.69 677.28L121.29 682.88M115.69 682.88L121.29 677.28M118.49 676.21L118.49 683.95M126.27 640.27L131.87 645.87M126.27 645.87L131.87 640.27M129.07 638.44L129.07 647.70M136.85 617.75L142.45 623.35M136.85 623.35L142.45 617.75M139.65 615.51L139.65 625.58M147.43 591.56L153.03 597.16M147.43 597.16L153.03 591.56M150.23 588.89L150.23 599.83M158.00 593.83L163.60 599.43M158.00 599.43L163.60 593.83M160.80 591.19L160.80 602.06M168.58 637.82L174.18 643.42M168.58 643.42L174.18 637.82M171.38 635.95L171.38 645.30M179.16 683.74L184.76 689.34M179.16 689.34L184.76 683.74M181.96 682.82L181.96 690.26M189.74 713.07L195.34 718.67M189.74 718.67L195.34 713.07M192.54 712.92L192.54 718.82M200.32 726.69L205.92 732.29M200.32 732.29L205.92 726.69M203.12 726.97L203.12 732.00M210.89 743.10L216.49 748.70M210.89 748.70L216.49 743.10M213.69 744.03L213.69 747.76M221.47 750.87L227.07 756.47M221.47 756.47L227.07 750.87M224.27 752.21L224.27 755.12M232.05 757.36L237.65 762.96M232.05 762.96L237.65 757.36M234.85 759.17L234.85 761.15M242.63 759.70L248.23 765.30M242.63 765.30L248.23 759.70M245.43 761.74L245.43 763.26M253.21 760.78L258.81 766.38M253.21 766.38L258.81 760.78M256.01 762.96L256.01 764.20M263.79 762.02L269.39 767.62M263.79 767.62L269.39 762.02M266.59 764.41L266.59 765.24M274.36 762.58L279.96 768.18M274.36 768.18L279.96 762.58M284.94 762.72L290.54 768.32M284.94 768.32L290.54 762.72" fill="none" stroke="#000" stroke-width="1.20" clip-path="url(#p556)"/>
<path d="M62.80 754.27L68.40 759.87M62.80 759.87L68.40 754.27M65.60 755.84L65.60 758.31M73.38 760.03L78.98 765.63M73.38 765.63L78.98 760.03M76.18 762.11L76.18 763.55M83.96 753.40L89.56 759.00M83.96 759.00L89.56 753.40M86.76 754.90L86.76 757.49M94.53 749.91L100.13 755.51M94.53 755.51L100.13 749.91M97.33 751.19L97.33 754.22M105.11 742.40L110.71 748.00M105.11 748.00L110.71 742.40M107.91 743.30L107.91 747.10M115.69 685.14L121.29 690.74M115.69 690.74L121.29 685.14M118.49 684.25L118.49 691.62M126.27 648.65L131.87 654.25M126.27 654.25L131.87 648.65M129.07 646.98L129.07 655.92M136.85 626.83L142.45 632.42M136.85 632.42L142.45 626.83M139.65 624.75L139.65 634.50M147.43 595.40L153.03 601.00M147.43 601.00L153.03 595.40M150.23 592.79L150.23 603.61M158.00 600.11L163.60 605.71M158.00 605.71L163.60 600.11M160.80 597.58L160.80 608.25M168.58 631.71L174.18 637.31M168.58 637.31L174.18 631.71M171.38 629.73L171.38 639.30M179.16 675.53L184.76 681.13M179.16 681.13L184.76 675.53M181.96 674.43L181.96 682.24M189.74 712.55L195.34 718.15M189.74 718.15L195.34 712.55M192.54 712.38L192.54 718.31M200.32 724.42L205.92 730.02M200.32 730.02L205.92 724.42M203.12 724.62L203.12 729.81M210.89 740.30L216.49 745.90M210.89 745.90L216.49 740.30M213.69 741.11L213.69 745.09M221.47 745.37L227.07 750.97M221.47 750.97L227.07 745.37M224.27 746.41L224.27 749.92M232.05 754.10L237.65 759.70M232.05 759.70L237.65 754.10M234.85 755.65L234.85 758.14M242.63 757.36L248.23 762.96M242.63 762.96L248.23 757.36M245.43 759.17L245.43 761.15M253.21 759.30L258.81 764.90M253.21 764.90L258.81 759.30M256.01 761.29L256.01 762.90M263.79 760.54L269.39 766.14M263.79 766.14L269.39 760.54M266.59 762.68L266.59 763.99M274.36 762.07L279.96 767.67M274.36 767.67L279.96 762.07M277.16 764.47L277.16 765.28M284.94 761.81L290.54 767.41M284.94 767.41L290.54 761.81M287.74 764.16L287.74 765.07M295.52 762.90L301.12 768.50M295.52 768.50L301.12 762.90M306.10 762.93L311.70 768.53M306.10 768.53L311.70 762.93M316.68 762.93L322.28 768.53M316.68 768.53L322.28 762.93M327.25 762.95L332.85 768.55M327.25 768.55L332.85 762.95M337.83 763.00L343.43 768.60M337.83 768.60L343.43 763.00M348.41 763.00L354.01 768.60M348.41 768.60L354.01 763.00M358.99 763.00L364.59 768.60M358.99 768.60L364.59 763.00" fill="none" stroke="#000" stroke-width="1.20" clip-path="url(#p556)"/>
<polyline points="65.60,757.07 76.18,762.83 86.76,756.20 97.33,752.71 107.91,745.20 118.49,687.94 129.07,651.45 139.65,629.62 150.23,598.20 160.80,602.91 171.38,634.51 181.96,678.33 192.54,715.35 203.12,727.22 213.69,743.10 224.27,748.17 234.85,756.90 245.43,760.16 256.01,762.10 266.59,763.34 277.16,764.87 287.74,764.61 298.32,765.70 308.90,765.73 319.48,765.73 330.05,765.75 340.63,765.80 351.21,765.80 361.79,765.80" fill="none" stroke="#ff0000" stroke-width="2.10" stroke-linejoin="miter" stroke-miterlimit="2.5" stroke-linecap="butt"/>
</g>
<text x="65.60" y="786.40" font-size="16.40" text-anchor="middle" >-1</text>
<text x="118.49" y="786.40" font-size="16.40" text-anchor="middle" >0</text>
<text x="171.38" y="786.40" font-size="16.40" text-anchor="middle" >1</text>
<text x="224.27" y="786.40" font-size="16.40" text-anchor="middle" >2</text>
<text x="277.16" y="786.40" font-size="16.40" text-anchor="middle" >3</text>
<text x="330.05" y="786.40" font-size="16.40" text-anchor="middle" >4</text>
<text x="61.70" y="766.20" font-size="16.40" text-anchor="end" >0</text>
<text x="61.70" y="736.28" font-size="16.40" text-anchor="end" >200</text>
<text x="61.70" y="701.37" font-size="16.40" text-anchor="end" >400</text>
<text x="61.70" y="666.45" font-size="16.40" text-anchor="end" >600</text>
<text x="61.70" y="631.53" font-size="16.40" text-anchor="end" >800</text>
<text x="61.70" y="596.62" font-size="16.40" text-anchor="end" >1000</text>
<text x="61.70" y="566.00" font-size="16.40" text-anchor="end" >1200</text>
<text x="211.05" y="805.20" font-size="16.40" text-anchor="middle">log(N<tspan font-size="9.84" dy="2.79">10</tspan><tspan dy="-2.79"> [pc</tspan><tspan font-size="9.84" dy="-7.38">-2</tspan><tspan dy="7.38">])</tspan></text>
<text transform="translate(12.20,657.60) rotate(-90)" font-size="16.40" text-anchor="middle" textLength="133.0" lengthAdjust="spacingAndGlyphs">Number of Vertices</text>
<text x="79" y="571.8" font-size="16.40">Grid sampled, A<tspan font-size="10.17" dy="3">V</tspan><tspan dy="-3"> &gt; 3 mag.</tspan></text>
<clipPath id="c595"><rect x="224.50" y="594.90" width="117.50" height="85.80"/></clipPath>
<clipPath id="c595m"><rect x="224.50" y="595.40" width="115.50" height="82.80"/></clipPath>
<g clip-path="url(#c595)">
<polyline points="224.50,616.93 236.05,648.39 247.60,659.74 259.15,671.16 270.70,677.37 282.25,678.20 293.80,678.20 305.35,678.20" fill="none" stroke="#00009a" stroke-width="2.00" stroke-linejoin="miter" stroke-miterlimit="2.5" stroke-linecap="butt"/>
<path d="M222.00 614.43L227.00 619.43M222.00 619.43L227.00 614.43M224.50 609.81L224.50 624.05M233.55 645.89L238.55 650.89M233.55 650.89L238.55 645.89M236.05 643.42L236.05 653.36M245.10 657.24L250.10 662.24M245.10 662.24L250.10 657.24M247.60 655.83L247.60 663.65M256.65 668.66L261.65 673.66M256.65 673.66L261.65 668.66M259.15 668.75L259.15 673.58M268.20 674.87L273.20 679.87M268.20 679.87L273.20 674.87M270.70 676.54L270.70 678.20" fill="none" stroke="#000" stroke-width="1.15" clip-path="url(#c595m)"/>
<polyline points="224.50,620.65 236.05,652.53 247.60,663.46 259.15,666.61 270.70,673.40 282.25,676.21 293.80,676.88 305.35,678.20 316.90,678.20 328.45,678.20 340.00,678.20" fill="none" stroke="#009a00" stroke-width="2.00" stroke-linejoin="miter" stroke-miterlimit="2.5" stroke-linecap="butt"/>
<path d="M222.00 618.15L227.00 623.15M222.00 623.15L227.00 618.15M224.50 613.75L224.50 627.56M233.55 650.03L238.55 655.03M233.55 655.03L238.55 650.03M236.05 647.92L236.05 657.14M245.10 660.96L250.10 665.96M245.10 665.96L250.10 660.96M247.60 659.97L247.60 666.95M256.65 664.11L261.65 669.11M256.65 669.11L261.65 664.11M259.15 663.51L259.15 669.71M268.20 670.90L273.20 675.90M268.20 675.90L273.20 670.90M270.70 671.40L270.70 675.39M279.75 673.71L284.75 678.71M279.75 678.71L284.75 673.71M282.25 674.93L282.25 677.50M291.30 674.38L296.30 679.38M291.30 679.38L296.30 674.38M293.80 675.83L293.80 677.92" fill="none" stroke="#000" stroke-width="1.15" clip-path="url(#c595m)"/>
<path d="M222.00 587.10L227.00 592.10M222.00 592.10L227.00 587.10M224.50 581.04L224.50 598.17M233.55 631.32L238.55 636.32M233.55 636.32L238.55 631.32M236.05 627.76L236.05 639.88M245.10 648.96L250.10 653.96M245.10 653.96L250.10 648.96M247.60 646.75L247.60 656.16M256.65 657.48L261.65 662.48M256.65 662.48L261.65 657.48M259.15 656.10L259.15 663.87M268.20 663.69L273.20 668.69M268.20 668.69L273.20 663.69M270.70 663.04L270.70 669.35M279.75 671.31L284.75 676.31M279.75 676.31L284.75 671.31M282.25 671.91L282.25 675.72M291.30 670.07L296.30 675.07M291.30 675.07L296.30 670.07M293.80 670.41L293.80 674.73M302.85 675.20L307.85 680.20M302.85 680.20L307.85 675.20M305.35 677.06L305.35 678.34M314.40 675.37L319.40 680.37M314.40 680.37L319.40 675.37M316.90 677.35L316.90 678.39M325.95 675.37L330.95 680.37M325.95 680.37L330.95 675.37M328.45 677.35L328.45 678.39M337.50 675.45L342.50 680.45M337.50 680.45L342.50 675.45M340.00 677.50L340.00 678.41" fill="none" stroke="#000" stroke-width="1.15" clip-path="url(#c595m)"/>
<polyline points="224.50,589.60 236.05,633.82 247.60,651.46 259.15,659.98 270.70,666.19 282.25,673.81 293.80,672.57 305.35,677.70 316.90,677.87 328.45,677.87 340.00,677.95" fill="none" stroke="#ff0000" stroke-width="2.00" stroke-linejoin="miter" stroke-miterlimit="2.5" stroke-linecap="butt"/>
</g>
<path d="M224.50 678.20V676.59M224.50 595.40V597.01M230.28 678.20V677.39M230.28 595.40V596.21M236.05 678.20V677.39M236.05 595.40V596.21M241.82 678.20V677.39M241.82 595.40V596.21M247.60 678.20V677.39M247.60 595.40V596.21M253.38 678.20V676.59M253.38 595.40V597.01M259.15 678.20V677.39M259.15 595.40V596.21M264.93 678.20V677.39M264.93 595.40V596.21M270.70 678.20V677.39M270.70 595.40V596.21M276.48 678.20V677.39M276.48 595.40V596.21M282.25 678.20V676.59M282.25 595.40V597.01M288.02 678.20V677.39M288.02 595.40V596.21M293.80 678.20V677.39M293.80 595.40V596.21M299.57 678.20V677.39M299.57 595.40V596.21M305.35 678.20V677.39M305.35 595.40V596.21M311.12 678.20V676.59M311.12 595.40V597.01M316.90 678.20V677.39M316.90 595.40V596.21M322.68 678.20V677.39M322.68 595.40V596.21M328.45 678.20V677.39M328.45 595.40V596.21M334.23 678.20V677.39M334.23 595.40V596.21M340.00 678.20V676.59M340.00 595.40V597.01M224.50 674.06H225.60M340.00 674.06H338.90M224.50 669.92H225.60M340.00 669.92H338.90M224.50 665.78H225.60M340.00 665.78H338.90M224.50 661.64H226.69M340.00 661.64H337.81M224.50 657.50H225.60M340.00 657.50H338.90M224.50 653.36H225.60M340.00 653.36H338.90M224.50 649.22H225.60M340.00 649.22H338.90M224.50 645.08H226.69M340.00 645.08H337.81M224.50 640.94H225.60M340.00 640.94H338.90M224.50 636.80H225.60M340.00 636.80H338.90M224.50 632.66H225.60M340.00 632.66H338.90M224.50 628.52H226.69M340.00 628.52H337.81M224.50 624.38H225.60M340.00 624.38H338.90M224.50 620.24H225.60M340.00 620.24H338.90M224.50 616.10H225.60M340.00 616.10H338.90M224.50 611.96H226.69M340.00 611.96H337.81M224.50 607.82H225.60M340.00 607.82H338.90M224.50 603.68H225.60M340.00 603.68H338.90M224.50 599.54H225.60M340.00 599.54H338.90" fill="none" stroke="#000" stroke-width="0.80"/>
<rect x="224.50" y="595.40" width="115.50" height="82.80" fill="none" stroke="#000" stroke-width="0.92"/>
<text x="224.50" y="689.10" font-size="8.30" text-anchor="middle" >2.0</text>
<text x="253.38" y="689.10" font-size="8.30" text-anchor="middle" >2.5</text>
<text x="282.25" y="689.10" font-size="8.30" text-anchor="middle" >3.0</text>
<text x="311.12" y="689.10" font-size="8.30" text-anchor="middle" >3.5</text>
<text x="340.00" y="689.10" font-size="8.30" text-anchor="middle" >4.0</text>
<text x="222.20" y="678.80" font-size="8.30" text-anchor="end" >0</text>
<text x="222.20" y="664.84" font-size="8.30" text-anchor="end" >20</text>
<text x="222.20" y="648.28" font-size="8.30" text-anchor="end" >40</text>
<text x="222.20" y="631.72" font-size="8.30" text-anchor="end" >60</text>
<text x="222.20" y="615.16" font-size="8.30" text-anchor="end" >80</text>
<text x="222.20" y="600.00" font-size="8.30" text-anchor="end" >100</text>
<text x="282.25" y="698.00" font-size="8.30" text-anchor="middle">log(N<tspan font-size="4.98" dy="1.41">10</tspan><tspan dy="-1.41"> [pc</tspan><tspan font-size="4.98" dy="-3.74">-2</tspan><tspan dy="3.74">])</tspan></text>
<text transform="translate(203.50,636.80) rotate(-90)" font-size="8.30" text-anchor="middle">Number of Vertices</text>
</svg></body></html>
